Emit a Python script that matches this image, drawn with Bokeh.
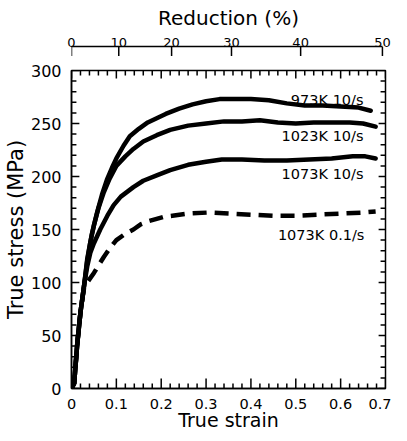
import math
from bokeh.plotting import figure
from bokeh.layouts import column
from bokeh.models import Range1d, FixedTicker, CustomJSTickFormatter, ColumnDataSource
from bokeh.embed import file_html
from bokeh.resources import INLINE
from bokeh.core.properties import value

# ---------------- data ----------------
strain_973 = [0, 0.006, 0.013, 0.02, 0.028, 0.035, 0.045, 0.057, 0.068, 0.079, 0.09, 0.10,
              0.116, 0.13, 0.15, 0.17, 0.19, 0.21, 0.24, 0.27, 0.30, 0.33, 0.36, 0.40,
              0.44, 0.48, 0.52, 0.56, 0.60, 0.64, 0.667]
stress_973 = [0, 5, 43, 72, 97, 122, 145, 166, 183, 197, 208, 217,
              229, 238, 245, 251, 255, 259, 264, 268, 271, 273, 273, 273,
              272, 269, 267, 267, 266, 265, 262]

strain_1023 = [0, 0.006, 0.013, 0.02, 0.028, 0.035, 0.042, 0.05, 0.06, 0.072, 0.085, 0.10,
               0.12, 0.138, 0.16, 0.19, 0.22, 0.26, 0.30, 0.34, 0.38, 0.42, 0.46, 0.50,
               0.54, 0.58, 0.62, 0.65, 0.678]
stress_1023 = [0, 5, 43, 72, 97, 120, 138, 154, 170, 185, 198, 210,
               219, 226, 233, 239, 244, 248, 250, 252, 252, 253, 251, 250,
               251, 251, 251, 250, 247]

strain_1073 = [0, 0.006, 0.013, 0.02, 0.028, 0.035, 0.042, 0.05, 0.064, 0.08, 0.094, 0.11,
               0.138, 0.16, 0.19, 0.22, 0.26, 0.30, 0.335, 0.38, 0.43, 0.48, 0.53, 0.58,
               0.627, 0.655, 0.678]
stress_1073 = [0, 5, 43, 72, 97, 115, 128, 137, 150, 163, 173, 181,
               190, 196, 201, 206, 211, 214, 216, 216, 215, 215, 216, 217,
               219, 219, 217]

strain_slow = [0, 0.006, 0.013, 0.02, 0.028, 0.035, 0.05, 0.06, 0.072, 0.085, 0.10, 0.12,
               0.138, 0.155, 0.173, 0.206, 0.225, 0.26, 0.305, 0.35, 0.40, 0.45, 0.50,
               0.55, 0.60, 0.65, 0.678]
stress_slow = [0, 5, 43, 72, 95, 100, 109, 116, 124, 132, 140, 146,
               150, 155, 158, 162, 163, 165, 166, 165, 164, 163, 163,
               164, 165, 166, 167]

curve_labels = ["973K 10/s", "1023K 10/s", "1073K 10/s", "1073K 0.1/s"]

x_ticks = [0, 0.1, 0.2, 0.3, 0.4, 0.5, 0.6, 0.7]
x_minor_ticks = [round(0.02 * k, 2) for k in range(36) if k % 5 != 0]
y_ticks = [0, 50, 100, 150, 200, 250, 300]
y_minor_ticks = [10 * k for k in range(31) if k % 5 != 0]
reduction_ticks = [0, 10, 20, 30, 40, 50]

# label anchor positions (data coords)
label_x = [0.651, 0.651, 0.651, 0.653]
label_y = [272.5, 238.5, 202.0, 145.0]

FONT = "DejaVu Sans"
X0, X1, Y0, Y1 = 0, 0.7, 0, 300
FRAME_W, FRAME_H = 319, 318
TICK_W = 1.5


def style_axis(ax):
    ax.axis_line_color = "black"
    ax.axis_line_width = 1.5
    ax.major_tick_in = 0
    ax.major_tick_out = 0
    ax.minor_tick_in = 0
    ax.minor_tick_out = 0
    ax.major_label_text_font = FONT
    ax.major_label_text_color = "black"
    ax.axis_label_text_font = FONT
    ax.axis_label_text_font_style = "normal"
    ax.axis_label_text_color = "black"


# ---------------- top: reduction axis ----------------
red_pos = [-math.log(1 - r / 100.0) for r in reduction_ticks]

p2 = figure(width=391, height=56, x_range=Range1d(X0, X1), y_range=Range1d(0, 1),
            x_axis_location="above", y_axis_location=None,
            output_backend="svg", toolbar_location=None,
            min_border_left=66, min_border_right=6, min_border_top=46, min_border_bottom=0)
p2.grid.visible = False
p2.outline_line_color = None
p2.background_fill_color = "white"
p2.border_fill_color = "white"
rda = p2.xaxis[0]
rda.ticker = FixedTicker(ticks=red_pos, minor_ticks=[])
rda.formatter = CustomJSTickFormatter(
    code="return Math.round((1 - Math.exp(-tick)) * 100).toString();")
style_axis(rda)
rda.bounds = (0, red_pos[-1])
rda.major_label_text_font_size = "13px"
rda.major_label_standoff = 0
rda.axis_label = "Reduction (%)"
rda.axis_label_text_font_size = "20px"
rda.axis_label_standoff = 5
p2.multi_line(xs=[[t, t] for t in red_pos], ys=[[0, 1] for _ in red_pos],
              line_color="black", line_width=TICK_W)

# ---------------- main plot ----------------
p = figure(width=391, height=377, x_range=Range1d(X0, X1), y_range=Range1d(Y0, Y1),
           output_backend="svg", toolbar_location=None,
           min_border_left=66, min_border_right=6, min_border_top=14, min_border_bottom=45)
p.grid.visible = False
p.outline_line_color = "black"
p.outline_line_width = 1.5
p.background_fill_color = "white"
p.border_fill_color = "white"

xa = p.xaxis[0]
xa.ticker = FixedTicker(ticks=x_ticks, minor_ticks=[])
xa.formatter = CustomJSTickFormatter(code="return tick == 0 ? '0' : tick.toFixed(1);")
style_axis(xa)
xa.major_label_text_font_size = "14.5px"
xa.major_label_standoff = 10
xa.axis_label = "True strain"
xa.axis_label_text_font_size = "19px"
xa.axis_label_standoff = -3

ya = p.yaxis[0]
ya.ticker = FixedTicker(ticks=y_ticks, minor_ticks=[])
style_axis(ya)
ya.major_label_text_font_size = "16px"
ya.major_label_standoff = 10
ya.axis_label = "True stress (MPa)"
ya.axis_label_text_font_size = "21px"
ya.axis_label_standoff = 0

# curves
for xs, ys in [(strain_973, stress_973), (strain_1023, stress_1023), (strain_1073, stress_1073)]:
    p.line(xs, ys, line_color="black", line_width=4.5, line_join="round", line_cap="round")
p.line(strain_slow, stress_slow, line_color="black", line_width=4.5, line_dash="14 8",
       line_join="round")

# inward frame ticks built from the tick arrays (length given in screen pixels)
dx = (X1 - X0) / FRAME_W
dy = (Y1 - Y0) / FRAME_H
tick_xs, tick_ys = [], []
for pos, edge, length in [(x_ticks, Y0, 10), (x_minor_ticks, Y0, 5),
                          (x_ticks, Y1, -8), (x_minor_ticks, Y1, -5)]:
    for t in pos:
        tick_xs.append([t, t])
        tick_ys.append([edge, edge + length * dy])
for pos, edge, length in [(y_ticks, X0, 8), (y_minor_ticks, X0, 5),
                          (y_ticks, X1, -7), (y_minor_ticks, X1, -5)]:
    for t in pos:
        tick_xs.append([edge, edge + length * dx])
        tick_ys.append([t, t])
p.multi_line(xs=tick_xs, ys=tick_ys, line_color="black", line_width=TICK_W)

src = ColumnDataSource(dict(x=label_x, y=label_y, t=curve_labels))
p.text(x="x", y="y", text="t", source=src, text_align="right", text_baseline="middle",
       text_font=value(FONT), text_font_size="14.5px", text_color="black")

layout = column(p2, p, spacing=0)
open("out.html", "w").write(file_html(layout, INLINE))
